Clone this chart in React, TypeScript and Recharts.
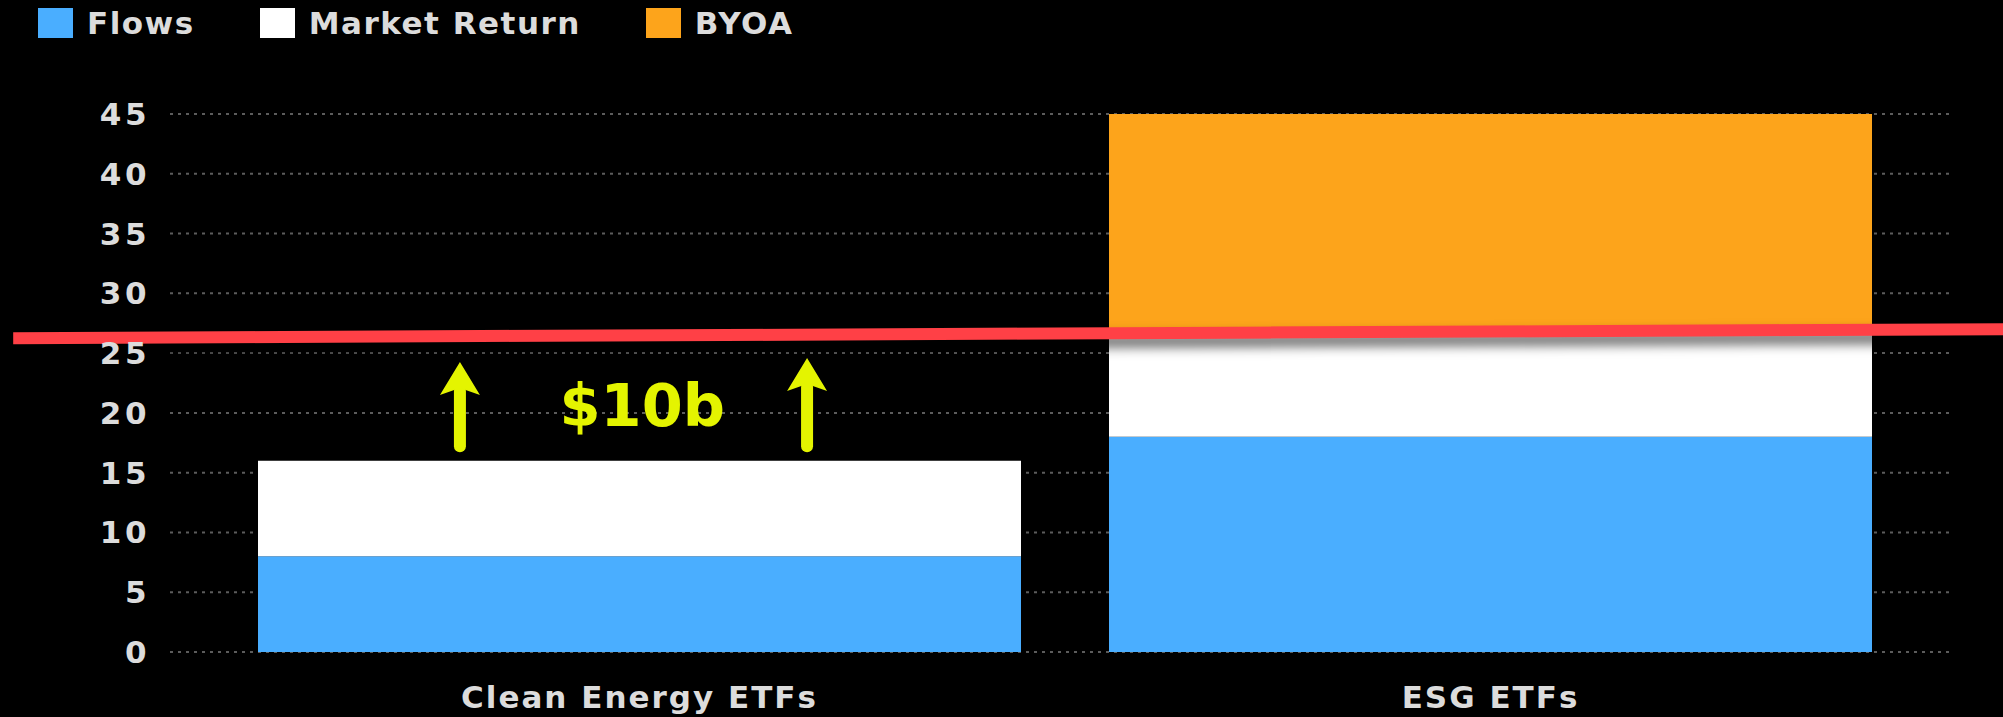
import { BarChart, Bar, XAxis, YAxis, CartesianGrid, Legend, ReferenceLine, ReferenceDot } from 'recharts';

const categories = ['Clean Energy ETFs', 'ESG ETFs'];
const seriesNames = ['Flows', 'Market Return', 'BYOA'];
const flows = [8, 18];
const marketReturn = [8, 9];
const byoa = [0, 18];
const yTicks = [0, 5, 10, 15, 20, 25, 30, 35, 40, 45];

// hand-drawn overlay, in data units (x is a hidden 0..1 axis across the plot)
const redLineX = [-0.088, 1.029];
const redLineY = [26.25, 27.0];
const arrowX = [0.1627, 0.3575];
const arrowBase = [17.2, 17.2];
const arrowTip = [24.25, 24.6];
const calloutX = 0.265;
const calloutY = 20.6;
const calloutText = '$10b';

const data = categories.map((name, i) => ({
  name,
  flows: flows[i],
  market: marketReturn[i],
  byoa: byoa[i],
}));

const FONT = '"DejaVu Sans", Verdana, sans-serif';
const YELLOW = '#E4F400';
const TEXT = '#DCDCDC';

const RedLine = (p: any) => (
  <line
    x1={p.x1}
    y1={p.y1}
    x2={p.x2}
    y2={p.y2}
    stroke="#FF4046"
    strokeWidth={12}
    style={{ filter: 'drop-shadow(0px 8px 6px rgba(0,0,0,0.6))' }}
  />
);

const Arrow = (p: any) => {
  const headH = 33;
  const headW = 40;
  const { x1, y1, x2, y2 } = p;
  return (
    <g>
      <line x1={x1} y1={y1} x2={x2} y2={y2 + headH - 4} stroke={YELLOW} strokeWidth={12} strokeLinecap="round" />
      <polygon
        points={`${x2},${y2} ${x2 - headW / 2},${y2 + headH} ${x2},${y2 + headH - 7} ${x2 + headW / 2},${y2 + headH}`}
        fill={YELLOW}
      />
    </g>
  );
};

const Callout = (p: any) => (
  <text
    x={p.cx}
    y={p.cy}
    textAnchor="middle"
    dominantBaseline="central"
    fill={YELLOW}
    style={{ fontFamily: FONT, fontWeight: 700, fontSize: 59 }}
  >
    {calloutText}
  </text>
);

const renderLegend = (props: any) => {
  const items = [...(props.payload || [])].sort(
    (a: any, b: any) => seriesNames.indexOf(a.value) - seriesNames.indexOf(b.value)
  );
  return (
    <div style={{ display: 'flex', alignItems: 'center', fontFamily: FONT, fontWeight: 700 }}>
      {items.map((item: any, i: number) => (
        <div key={i} style={{ display: 'flex', alignItems: 'center', marginRight: 65 }}>
          <div style={{ width: 35, height: 30, background: item.color }} />
          <span style={{ marginLeft: 14, fontSize: 31, letterSpacing: 1.5, color: TEXT, lineHeight: '30px' }}>
            {item.value}
          </span>
        </div>
      ))}
    </div>
  );
};

export default function App() {
  return (
    <div style={{ position: 'absolute', left: 0, top: 0, width: 2003, height: 717, background: '#000' }}>
      <BarChart
        width={2003}
        height={717}
        data={data}
        margin={{ top: 114, right: 51, bottom: 0, left: 0 }}
        barCategoryGap={44}
      >
        <CartesianGrid vertical={false} stroke="#5c5c5c" strokeWidth={2} strokeDasharray="3 5" />
        <XAxis
          dataKey="name"
          height={65}
          padding={{ left: 44, right: 36 }}
          axisLine={false}
          tickLine={false}
          tickSize={0}
          tickMargin={34}
          tick={{ fill: TEXT, fontFamily: FONT, fontWeight: 700, fontSize: 31, letterSpacing: 2 }}
        />
        <XAxis xAxisId="line" type="number" domain={[0, 1]} allowDataOverflow hide />
        <YAxis
          width={170}
          domain={[0, 45]}
          ticks={yTicks}
          interval={0}
          axisLine={false}
          tickLine={false}
          tickSize={0}
          tickMargin={20}
          tick={{ fill: TEXT, fontFamily: FONT, fontWeight: 700, fontSize: 31, letterSpacing: 3.5 }}
        />
        <Legend
          layout="vertical"
          align="center"
          verticalAlign="middle"
          wrapperStyle={{ left: 38, top: 8 }}
          content={renderLegend}
        />
        <Bar dataKey="flows" name="Flows" stackId="a" fill="#4AAEFF" isAnimationActive={false} />
        <Bar dataKey="market" name="Market Return" stackId="a" fill="#FFFFFF" isAnimationActive={false} />
        <Bar dataKey="byoa" name="BYOA" stackId="a" fill="#FDA41B" isAnimationActive={false} />
        {arrowX.map((x, i) => (
          <ReferenceLine
            key={i}
            xAxisId="line"
            ifOverflow="visible"
            segment={[
              { x, y: arrowBase[i] },
              { x, y: arrowTip[i] },
            ]}
            shape={Arrow}
          />
        ))}
        <ReferenceDot xAxisId="line" x={calloutX} y={calloutY} r={0} ifOverflow="visible" shape={Callout} />
        <ReferenceLine
          xAxisId="line"
          ifOverflow="visible"
          segment={[
            { x: redLineX[0], y: redLineY[0] },
            { x: redLineX[1], y: redLineY[1] },
          ]}
          shape={RedLine}
        />
      </BarChart>
    </div>
  );
}
